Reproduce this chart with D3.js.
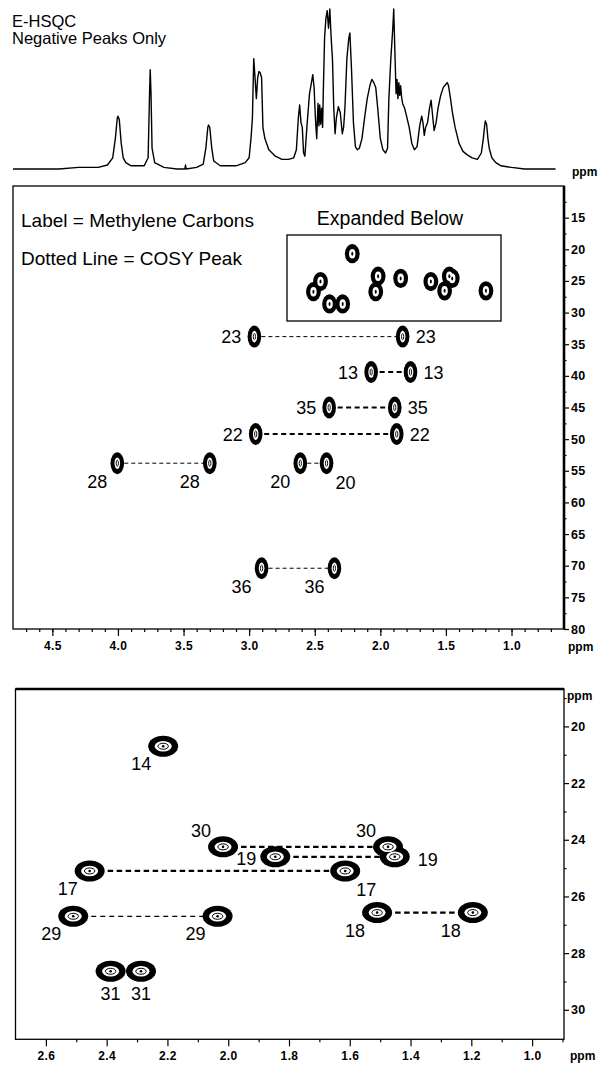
<!DOCTYPE html>
<html><head><meta charset="utf-8">
<script src="https://cdn.jsdelivr.net/npm/d3@7"></script>
<style>
body{margin:0;background:#fff}
svg{display:block}
text{font-family:"Liberation Sans",Arial,Helvetica,sans-serif;fill:#000}
</style>
</head><body>
<svg id="chart" width="602" height="1066"></svg>
<script>
// ---------------- DATA ----------------
// 1D proton spectrum: [ppm, relative intensity 0-100]
const spectrum = [
 [4.80,0],[4.60,0],[4.45,0],[4.30,1],[4.15,1],[4.08,2.5],[4.04,7],[4.02,19],[4.005,32],[4.00,33],[3.99,31],[3.975,16],[3.96,7],[3.94,4],[3.90,2],[3.80,2],
 [3.77,7],[3.76,44],[3.754,62],[3.748,47],[3.74,13],[3.72,4],[3.65,1],[3.55,0],[3.49,0],[3.485,2.5],[3.48,0],[3.40,1],[3.35,3],[3.33,13],[3.315,26],[3.31,27.5],
 [3.30,26],[3.285,13],[3.27,5],[3.22,2],[3.10,2],[3.03,4],[3.00,7],[2.985,20],[2.975,32],[2.965,69],[2.955,57],[2.945,44],[2.935,57],[2.925,61],[2.915,60],
 [2.905,57],[2.895,26],[2.88,19],[2.85,12],[2.80,8],[2.75,6],[2.70,6],[2.66,7],[2.64,12],[2.625,32],[2.615,40],[2.605,29],[2.595,26],[2.585,10],[2.575,8],
 [2.56,26],[2.54,47],[2.525,54],[2.515,59],[2.505,51],[2.495,32],[2.485,19],[2.475,41],[2.468,27],[2.462,40],[2.455,28],[2.448,38],[2.44,26],[2.435,47],
 [2.425,82],[2.415,94],[2.405,99],[2.395,88],[2.385,100],[2.375,82],[2.365,69],[2.355,38],[2.345,22],[2.335,32],[2.32,39],[2.305,35],[2.29,22],[2.28,26],
 [2.27,38],[2.255,69],[2.24,82],[2.232,85],[2.22,63],[2.205,29],[2.19,14],[2.175,12],[2.16,13],[2.14,19],[2.12,32],[2.10,44],[2.08,52],[2.065,56],[2.05,54],
 [2.035,51],[2.02,38],[2.00,19],[1.98,12],[1.96,10],[1.945,13],[1.935,44],[1.92,69],[1.905,88],[1.898,100],[1.89,76],[1.88,47],[1.873,56],[1.866,44],
 [1.859,54],[1.852,46],[1.845,52],[1.838,45],[1.83,41],[1.815,38],[1.80,33],[1.78,26],[1.76,16],[1.74,12],[1.72,14],[1.70,27],[1.685,33],[1.675,29],
 [1.665,21],[1.655,26],[1.64,29],[1.625,38],[1.613,43],[1.60,32],[1.59,24],[1.575,29],[1.56,38],[1.54,46],[1.52,51],[1.50,53],[1.49,54],[1.48,52],
 [1.465,44],[1.45,35],[1.43,26],[1.40,16],[1.37,11],[1.34,9],[1.30,7],[1.26,6],[1.23,10],[1.215,19],[1.205,27],[1.20,30],[1.19,28],[1.18,19],[1.17,13],
 [1.15,7],[1.12,4],[1.08,2],[1.00,1],[0.90,0],[0.80,0],[0.664,0]
];

// Full HSQC (methylene carbons): labels, 1H shift, 13C shift, label side
const topLabel = ['23','23','13','13','35','35','22','22','28','28','20','20','36','36'];
const topH     = [2.96,1.83,2.07,1.77,2.39,1.89,2.95,1.875,4.005,3.30,2.61,2.41,2.905,2.35];
const topC     = [33.8,33.8,39.4,39.4,45.0,45.0,49.2,49.2,53.8,53.8,53.8,53.8,70.4,70.4];
const topSide  = ['L','R','L','R','L','R','L','R','BL','BL','BL','BR','BL','BL'];

// Expanded region
const botLabel = ['14','30','30','19','19','17','17','29','29','18','18','31','31'];
const botH     = [2.214,2.017,1.474,1.845,1.452,2.456,1.615,2.51,2.035,1.51,1.195,2.387,2.287];
const botC     = [20.7,24.25,24.25,24.6,24.6,25.1,25.1,26.7,26.7,26.57,26.57,28.64,28.64];
const botSide  = ['BL','AL','AL','L','R','BL','BR','BL','BL','BL','BL','B','B'];

// Tick labels
const topXTicks = [4.5,4.0,3.5,3.0,2.5,2.0,1.5,1.0];
const topYTicks = [15,20,25,30,35,40,45,50,55,60,65,70,75,80];
const botXTicks = [2.6,2.4,2.2,2.0,1.8,1.6,1.4,1.2,1.0];
const botYTicks = [20,22,24,26,28,30];

// ---------------- LAYOUT / STYLE ----------------
const FONT = '"Liberation Sans",Arial,Helvetica,sans-serif';
const svg = d3.select('#chart');
svg.append('rect').attr('width',602).attr('height',1066).attr('fill','#fff');

const xTop = d3.scaleLinear().domain([4.80,0.60]).range([13,564]);
const yTop = d3.scaleLinear().domain([10,80]).range([186,629]);
const ySpec = d3.scaleLinear().domain([0,100]).range([169,9]);
const xBot = d3.scaleLinear().domain([2.70,0.895]).range([15.5,564]);
const yBot = d3.scaleLinear().domain([18.68,31.04]).range([689,1039.3]);

const heavyTop = new Set(['35','22','13']);
const lightBot = new Set(['29']);

const topOff = {L:{dx:-13,dy:6.5,a:'end'},R:{dx:13,dy:6.5,a:'start'},BL:{dx:-20,dy:25,a:'middle'},BR:{dx:19,dy:26,a:'middle'}};
const botOff = {L:{dx:-19,dy:8,a:'end'},R:{dx:23,dy:9,a:'start'},BL:{dx:-22,dy:24,a:'middle'},BR:{dx:21,dy:25,a:'middle'},AL:{dx:-22,dy:-9.5,a:'middle'},B:{dx:0,dy:29,a:'middle'}};

function mk(labels,H,C,side){return labels.map((l,i)=>({label:l,h:H[i],c:C[i],side:side[i]}));}
const topPts = mk(topLabel,topH,topC,topSide);
const botPts = mk(botLabel,botH,botC,botSide);

function links(pts){
  const out=[];
  d3.group(pts,d=>d.label).forEach((arr,k)=>{ if(arr.length===2) out.push({label:k,a:arr[0],b:arr[1]}); });
  return out;
}

function styleAxis(g,fs){
  g.select('.domain').remove();
  g.selectAll('line').attr('stroke','#000').attr('stroke-width',1.2);
  g.selectAll('text').attr('font-family',FONT).attr('font-weight','bold').attr('font-size',fs).attr('fill','#000').attr('letter-spacing','0.4px');
}

function blobs(g,pts,x,y,layers){
  layers.forEach(L=>{
    g.append('g').selectAll('ellipse').data(pts).join('ellipse')
      .attr('cx',d=>x(d.h)).attr('cy',d=>y(d.c)).attr('rx',L.rx).attr('ry',L.ry)
      .attr('fill',L.fill).attr('stroke',L.stroke||'none').attr('stroke-width',L.sw||0);
  });
}

// ---------------- HEADER + 1D SPECTRUM ----------------
svg.append('text').attr('x',12).attr('y',27).attr('font-size',16.5).text('E-HSQC');
svg.append('text').attr('x',12).attr('y',44).attr('font-size',16.5).text('Negative Peaks Only');

const line = d3.line().x(d=>xTop(d[0])).y(d=>ySpec(d[1]));
svg.append('path').datum(spectrum).attr('d',line).attr('fill','none').attr('stroke','#000')
  .attr('stroke-width',1.4).attr('stroke-linejoin','round');
svg.append('text').attr('x',572).attr('y',176).attr('font-size',12).attr('font-weight','bold').text('ppm');

// ---------------- TOP 2D PANEL ----------------
const gT = svg.append('g');
gT.append('rect').attr('x',13).attr('y',186).attr('width',551).attr('height',443).attr('fill','none').attr('stroke','#000').attr('stroke-width',1.3);
gT.append('line').attr('x1',564).attr('x2',564).attr('y1',186).attr('y2',629).attr('stroke','#000').attr('stroke-width',2.6);

// axes
const tx = gT.append('g').attr('transform','translate(0,629)')
  .call(d3.axisBottom(xTop).tickValues(topXTicks).tickSize(7).tickPadding(5.5).tickFormat(d3.format('.1f')));
styleAxis(tx,12);
const txm = gT.append('g').attr('transform','translate(0,629)')
  .call(d3.axisBottom(xTop).tickValues(d3.range(7,48).map(v=>v/10)).tickSize(3).tickFormat(''));
styleAxis(txm,12);
const ty = gT.append('g').attr('transform','translate(564,0)')
  .call(d3.axisRight(yTop).tickValues(topYTicks).tickSize(5).tickPadding(2));
styleAxis(ty,12.5);
const tym = gT.append('g').attr('transform','translate(564,0)')
  .call(d3.axisRight(yTop).tickValues(d3.range(12.5,80,5)).tickSize(2.5).tickFormat(''));
styleAxis(tym,12);
gT.append('text').attr('x',568).attr('y',651).attr('font-size',12).attr('font-weight','bold').text('ppm');

// legend texts
gT.append('text').attr('x',21).attr('y',227).attr('font-size',19).text('Label = Methylene Carbons');
gT.append('text').attr('x',21).attr('y',265).attr('font-size',19).text('Dotted Line = COSY Peak');
gT.append('text').attr('x',390).attr('y',225).attr('font-size',19.5).attr('text-anchor','middle').text('Expanded Below');

// inset showing expanded region at full-panel scale
gT.append('rect').attr('x',287).attr('y',235).attr('width',214).attr('height',86).attr('fill','none').attr('stroke','#000').attr('stroke-width',1.3);
blobs(gT.append('g'),botPts,xTop,yTop,[
  {rx:7.4,ry:9.6,fill:'#000'},
  {rx:3.2,ry:4.8,fill:'#fff'},
  {rx:1,ry:2,fill:'#000'}
]);

// COSY links
gT.append('g').selectAll('line').data(links(topPts)).join('line')
  .attr('x1',d=>xTop(d.a.h)).attr('x2',d=>xTop(d.b.h)).attr('y1',d=>yTop(d.a.c)).attr('y2',d=>yTop(d.b.c))
  .attr('stroke','#000').attr('stroke-width',d=>heavyTop.has(d.label)?2:1)
  .attr('stroke-dasharray',d=>heavyTop.has(d.label)?'5,3.5':'4,3');
blobs(gT.append('g'),topPts,xTop,yTop,[
  {rx:6.8,ry:11,fill:'#000'},
  {rx:2.8,ry:5.8,fill:'#fff'},
  {rx:1.1,ry:3.2,fill:'none',stroke:'#000',sw:0.9}
]);
gT.append('g').selectAll('text').data(topPts).join('text')
  .attr('x',d=>xTop(d.h)+topOff[d.side].dx).attr('y',d=>yTop(d.c)+topOff[d.side].dy)
  .attr('text-anchor',d=>topOff[d.side].a).attr('font-size',18).text(d=>d.label);

// ---------------- BOTTOM 2D PANEL ----------------
const gB = svg.append('g');
gB.append('rect').attr('x',15.5).attr('y',689).attr('width',548.5).attr('height',350.3).attr('fill','none').attr('stroke','#000').attr('stroke-width',1.3);
gB.append('line').attr('x1',15.5).attr('x2',564).attr('y1',689).attr('y2',689).attr('stroke','#000').attr('stroke-width',2.4);

const bx = gB.append('g').attr('transform','translate(0,1039.3)')
  .call(d3.axisBottom(xBot).tickValues(botXTicks).tickSize(7).tickPadding(5.5).tickFormat(d3.format('.1f')));
styleAxis(bx,12);
const bxm = gB.append('g').attr('transform','translate(0,1039.3)')
  .call(d3.axisBottom(xBot).tickValues(d3.range(9,27,2).map(v=>v/10)).tickSize(3).tickFormat(''));
styleAxis(bxm,12);
const by = gB.append('g').attr('transform','translate(564,0)')
  .call(d3.axisRight(yBot).tickValues(botYTicks).tickSize(5).tickPadding(2));
styleAxis(by,12.5);
const bym = gB.append('g').attr('transform','translate(564,0)')
  .call(d3.axisRight(yBot).tickValues(d3.range(19,31,2)).tickSize(2.5).tickFormat(''));
styleAxis(bym,12);
gB.append('text').attr('x',567).attr('y',700).attr('font-size',12).attr('font-weight','bold').text('ppm');
gB.append('text').attr('x',570).attr('y',1060).attr('font-size',12).attr('font-weight','bold').text('ppm');

gB.append('g').selectAll('line').data(links(botPts)).join('line')
  .attr('x1',d=>xBot(d.a.h)).attr('x2',d=>xBot(d.b.h)).attr('y1',d=>yBot(d.a.c)).attr('y2',d=>yBot(d.b.c))
  .attr('stroke','#000').attr('stroke-width',d=>lightBot.has(d.label)?1.2:2.2)
  .attr('stroke-dasharray',d=>lightBot.has(d.label)?'5,4':'5.5,3.5');
blobs(gB.append('g'),botPts,xBot,yBot,[
  {rx:15,ry:10.5,fill:'#000'},
  {rx:8.5,ry:5.2,fill:'#fff'},
  {rx:5.2,ry:3,fill:'none',stroke:'#000',sw:1},
  {rx:1.3,ry:1.3,fill:'#000'}
]);
gB.append('g').selectAll('text').data(botPts).join('text')
  .attr('x',d=>xBot(d.h)+botOff[d.side].dx).attr('y',d=>yBot(d.c)+botOff[d.side].dy)
  .attr('text-anchor',d=>botOff[d.side].a).attr('font-size',18).text(d=>d.label);
</script>
</body></html>
